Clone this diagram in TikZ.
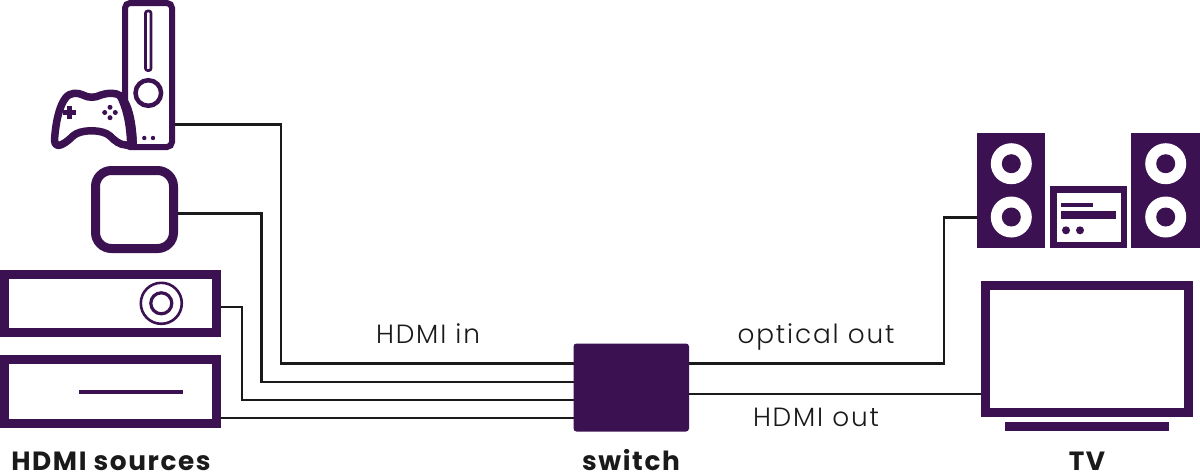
\documentclass[tikz,border=0pt]{standalone}
\usepackage{fontspec}
\usetikzlibrary{backgrounds}
\newfontfamily\lightlabel[UprightFont={* Light},LetterSpace=7]{Poppins}
\newfontfamily\boldlabel[UprightFont={* Bold},LetterSpace=6]{Poppins}
\definecolor{plum}{HTML}{3B1152}
\definecolor{ink}{HTML}{1A1A1A}
\tikzset{
  devbox/.style={draw=plum,line width=#1*0.02cm,inner sep=0pt,outer sep=0pt,rectangle},
  solidbox/.style={fill=plum,draw=none,inner sep=0pt,outer sep=0pt,rectangle},
  wire/.style={draw=ink,line width=2.5*0.02cm,line join=miter},
  thin label/.style={text=ink,inner sep=0pt,anchor=base,font=\fontsize{15}{17}\selectfont\lightlabel},
  bold label/.style={text=ink,inner sep=0pt,anchor=base,font=\fontsize{15}{17}\selectfont\boldlabel},
  plumfill/.style={fill=plum,draw=none},
  plumline/.style={draw=plum,fill=none}
}
\begin{document}
\begin{tikzpicture}[x=0.02cm,y=-0.02cm]
\useasboundingbox (0,0) rectangle (1200,471);

% devices
\node[devbox=6,rounded corners=5*0.02cm,minimum width=47*0.02cm,minimum height=144*0.02cm] (console) at (148.5,75) {};
\node[devbox=9,rounded corners=16*0.02cm,minimum width=78*0.02cm,minimum height=78*0.02cm] (box) at (134.5,209.5) {};
\node[devbox=9,minimum width=211.5*0.02cm,minimum height=58*0.02cm] (player) at (110.25,303.5) {};
\node[devbox=9,minimum width=211.5*0.02cm,minimum height=64*0.02cm] (dvd) at (110.25,391.5) {};
\node[solidbox,rounded corners=3*0.02cm,minimum width=115.5*0.02cm,minimum height=88*0.02cm] (switch) at (631.25,387.5) {};
\node[devbox=9,minimum width=203*0.02cm,minimum height=127*0.02cm] (tv) at (1087,349) {};
\node[solidbox,minimum width=68*0.02cm,minimum height=115.6*0.02cm] (spkL) at (1011.3,190.5) {};
\node[solidbox,minimum width=68.7*0.02cm,minimum height=115.6*0.02cm] (spkR) at (1165.65,190.5) {};
\node[solidbox,minimum width=77*0.02cm,minimum height=62*0.02cm] (amp) at (1088.5,217.3) {};

% console details
\draw[plumline,line width=2.6*0.02cm,rounded corners=2*0.02cm] (145.5,11) rectangle (151,70.5);
\draw[plumline,line width=4.5*0.02cm] (148.3,93) circle (12.8);
\fill[plum] (144.3,138) circle (2.2) (153,138) circle (2.2);

% controller
\draw[plum,fill=white,line width=7.5*0.02cm,line join=round]
  (54.5,140) .. controls (55.5,125) and (58.5,107) .. (65.5,98)
  .. controls (70,92) and (78,92.5) .. (83,95)
  .. controls (88,98) and (95,98) .. (101,95)
  .. controls (108,92.5) and (116,92.5) .. (121,96)
  .. controls (129,105) and (133,125) .. (133,145)
  -- (126,145)
  .. controls (120,145) and (115,141) .. (110,136)
  .. controls (103,129) and (80,129) .. (73,136)
  .. controls (68,141) and (62,145.5) .. (58,145.5)
  .. controls (55.5,145.5) and (54.5,143) .. (54.5,140) -- cycle;
\fill[plum] (120,92) .. controls (131,100) and (137,125) .. (137,149)
  -- (127,149) .. controls (127,130) and (124,110) .. (116,96) -- cycle;
\draw[plum,line width=4.2*0.02cm] (63,112.5) -- (76,112.5) (69.5,106) -- (69.5,119);
\fill[plum] (110,107.3) circle (2.5) (110,117.7) circle (2.5) (104.7,112.5) circle (2.5) (115.3,112.5) circle (2.5);

% player details
\draw[plumline,line width=2.6*0.02cm] (161.3,303.3) circle (20.5);
\draw[plumline,line width=3.2*0.02cm] (161.3,303.3) circle (10.5);
\fill[plum] (79,389.7) rectangle (183,393.7);

% stand
\node[solidbox,minimum width=164*0.02cm,minimum height=9*0.02cm] (stand) at (1087,426.8) {};

% speakers
\foreach \cx in {1011.3,1165.7}{
  \foreach \cy in {163.7,217}{
    \fill[white] (\cx,\cy) circle (20.5);
    \fill[plum] (\cx,\cy) circle (9.5);
  }
}
% amplifier
\fill[white] (1056.7,192.7) rectangle (1120.7,242.3);
\fill[plum] (1060.7,202.7) rectangle (1093.3,206.7);
\fill[plum] (1060.7,210.7) rectangle (1116,219.3);
\fill[plum] (1066,230.3) circle (4) (1080,230.3) circle (4);

% connectors
\coordinate (p1) at (176,124.5);
\coordinate (p2) at (178,213.5);
\coordinate (p3) at (220,307);
\coordinate (p4) at (220,418);
\coordinate (in1) at (574,363.7);
\coordinate (in2) at (574,382);
\coordinate (in3) at (574,400);
\coordinate (out1) at (689,363.7);
\coordinate (out2) at (689,394);
\coordinate (p5) at (977,217.3);
\coordinate (b1) at (281,0);
\coordinate (b2) at (261.5,0);
\coordinate (b3) at (242,0);
\coordinate (b5) at (944,0);
\begin{scope}[on background layer]
\fill[white] (0,0) rectangle (1200,471);
\draw[wire] (console.east |- p1) -- (b1 |- p1) -- (b1 |- in1) -- (switch.west |- in1);
\draw[wire] (box.east |- p2) -- (b2 |- p2) -- (b2 |- in2) -- (switch.west |- in2);
\draw[wire] (player.east |- p3) -- (b3 |- p3) -- (b3 |- in3) -- (switch.west |- in3);
\draw[wire] (dvd.east |- p4) -- (switch.west |- p4);
\draw[wire] (switch.east |- out1) -- (b5 |- out1) -- (b5 |- p5) -- (spkL.west |- p5);
\draw[wire] (switch.east |- out2) -- (tv.west |- out2);
\end{scope}

% labels
\node[thin label] (lin) at (428,343) {HDMI in};
\node[thin label] (loptical) at (816,343) {optical out};
\node[thin label] (lout) at (816,426.7) {HDMI out};
\node[bold label] (lsrc) at (111,470.5) {HDMI sources};
\node[bold label] (lsw) at (631,470.5) {switch};
\node[bold label] (ltv) at (1087,470.5) {TV};
\end{tikzpicture}
\end{document}
